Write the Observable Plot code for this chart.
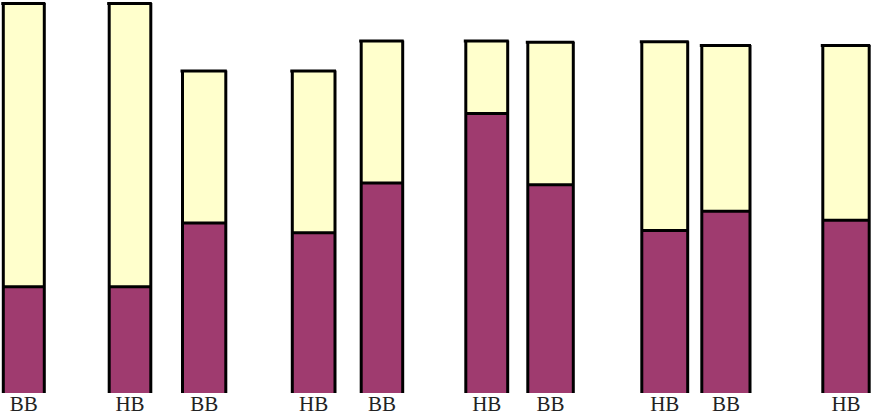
<!DOCTYPE html>
<html>
<head>
<meta charset="utf-8">
<script src="https://cdn.jsdelivr.net/npm/d3@7"></script>
<script src="https://cdn.jsdelivr.net/npm/@observablehq/plot@0.6"></script>
<style>
  html, body { margin: 0; padding: 0; background: #fff; }
</style>
</head>
<body>
<div id="chart"></div>
<script>
const labels = ["BB", "HB", "BB", "HB", "BB", "HB", "BB", "HB", "BB", "HB"];
const leftEdge  = [2.8, 108.7, 182, 291.8, 360.7, 465.3, 527.3, 641.3, 701.3, 822.3];
const rightEdge = [43.8, 150.3, 225.3, 334.5, 402.2, 507.2, 572.8, 687.2, 749.5, 868.7];
const totals = [100, 100, 82.7, 82.7, 90.4, 90.4, 90.05, 90.2, 89.2, 89.2];
const lower  = [27.4, 27.4, 43.7, 41.2, 54.0, 71.8, 53.5, 41.8, 46.7, 44.4];

const data = labels.map((label, i) => ({
  label,
  x1: leftEdge[i],
  x2: rightEdge[i],
  xc: (leftEdge[i] + rightEdge[i]) / 2,
  total: totals[i],
  lower: lower[i]
}));

const purple = "#9f3b6f";
const yellow = "#ffffcc";

const chart = Plot.plot({
  width: 874,
  height: 415,
  marginTop: 3,
  marginBottom: 22,
  marginLeft: 0,
  marginRight: 0,
  x: { type: "linear", domain: [0, 874], axis: null },
  y: { domain: [0, 100], axis: null },
  marks: [
    Plot.rectY(data, { x1: "x1", x2: "x2", y1: 0, y2: "lower", fill: purple }),
    Plot.rectY(data, { x1: "x1", x2: "x2", y1: "lower", y2: "total", fill: yellow }),
    Plot.ruleX(data, { x: "x1", y1: 0, y2: "total", stroke: "#000", strokeWidth: 3 }),
    Plot.ruleX(data, { x: "x2", y1: 0, y2: "total", stroke: "#000", strokeWidth: 3 }),
    Plot.ruleY(data, { y: "total", x1: "x1", x2: "x2", stroke: "#000", strokeWidth: 3, strokeLinecap: "square" }),
    Plot.ruleY(data, { y: "lower", x1: "x1", x2: "x2", stroke: "#000", strokeWidth: 3 }),
    Plot.text(data, {
      x: "xc", y: 0, text: "label",
      lineAnchor: "top", dy: 3,
      fontSize: 21, fontFamily: "Liberation Serif, serif", fill: "#222"
    })
  ]
});

document.getElementById("chart").appendChild(chart);
</script>
</body>
</html>
